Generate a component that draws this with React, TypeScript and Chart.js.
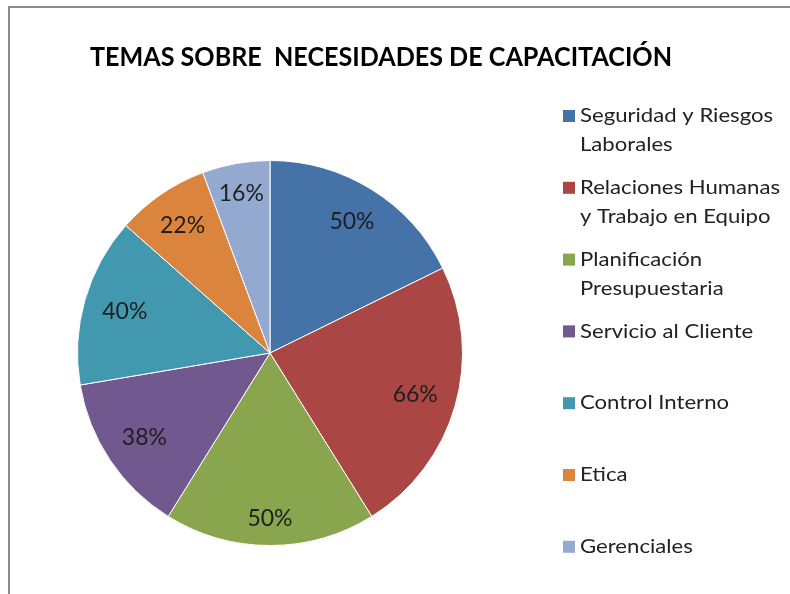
import React, { useEffect, useRef } from "react";
import { Chart, registerables } from "chart.js";

Chart.register(...registerables);

const TITLE = "TEMAS SOBRE  NECESIDADES DE CAPACITACIÓN";
const categories: string[][] = [
  ["Seguridad y Riesgos", "Laborales"],
  ["Relaciones Humanas", "y Trabajo en Equipo"],
  ["Planificación", "Presupuestaria"],
  ["Servicio al Cliente"],
  ["Control Interno"],
  ["Etica"],
  ["Gerenciales"],
];
const values: number[] = [50, 66, 50, 38, 40, 22, 16];
const colors: string[] = ["#4572A7", "#AA4643", "#89A54E", "#71588F", "#4198AF", "#DB843D", "#93A9CF"];

const FONT = "Lato, 'Open Sans', sans-serif";

const decorPlugin = {
  id: "decor",
  beforeDraw(chart: any) {
    const ctx = chart.ctx;
    ctx.save();
    ctx.fillStyle = "#ffffff";
    ctx.fillRect(0, 0, chart.width, chart.height);
    ctx.strokeStyle = "#8a8a8a";
    ctx.lineWidth = 2;
    ctx.beginPath();
    ctx.moveTo(9, chart.height + 2);
    ctx.lineTo(9, 7);
    ctx.lineTo(chart.width + 2, 7);
    ctx.stroke();
    ctx.restore();
  },
  afterDraw(chart: any) {
    const ctx = chart.ctx;
    ctx.save();
    // title
    ctx.fillStyle = "#000000";
    ctx.font = `bold 27px ${FONT}`;
    ctx.textBaseline = "middle";
    ctx.textAlign = "left";
    const tw = ctx.measureText(TITLE).width;
    ctx.translate(90, 57);
    ctx.scale(582 / tw, 1);
    ctx.fillText(TITLE, 0, 0);
    ctx.restore();

    // legend
    ctx.save();
    ctx.font = `19px ${FONT}`;
    ctx.textBaseline = "middle";
    ctx.textAlign = "left";
    const refW = ctx.measureText(categories[1][0]).width;
    const sx = 200 / refW;
    const startY = 116;
    const step = 71.8;
    const lineH = 29;
    categories.forEach((lines, i) => {
      const y = startY + i * step;
      ctx.fillStyle = colors[i];
      ctx.fillRect(563, y - 6, 12, 12);
      ctx.fillStyle = "#222222";
      lines.forEach((t, j) => {
        ctx.save();
        ctx.translate(580, y + j * lineH);
        ctx.scale(sx, 1);
        ctx.fillText(t, 0, 0);
        ctx.restore();
      });
    });
    ctx.restore();

    // data labels
    const meta = chart.getDatasetMeta(0);
    ctx.save();
    ctx.font = `23px ${FONT}`;
    ctx.textBaseline = "middle";
    ctx.textAlign = "center";
    ctx.fillStyle = "#1f1f1f";
    meta.data.forEach((arc: any, i: number) => {
      const p = arc.getProps(["x", "y", "startAngle", "endAngle", "outerRadius"], true);
      const mid = (p.startAngle + p.endAngle) / 2;
      const text = values[i] + "%";
      const hw = ctx.measureText(text).width / 2;
      const hh = 10;
      const c = Math.cos(mid);
      const s = Math.sin(mid);
      const extent = hw * Math.abs(c) + hh * Math.abs(s);
      const r = p.outerRadius - 17 - extent;
      ctx.fillText(text, p.x + c * r, p.y + s * r);
    });
    ctx.restore();
  },
};

export default function App() {
  const ref = useRef<HTMLCanvasElement | null>(null);
  useEffect(() => {
    if (!ref.current) return;
    const chart = new Chart(ref.current, {
      type: "pie",
      data: {
        labels: categories.map((c) => c.join(" ")),
        datasets: [
          {
            data: values,
            backgroundColor: colors,
            borderColor: "#ffffff",
            borderWidth: 1,
          },
        ],
      },
      options: {
        responsive: false,
        animation: false,
        layout: { padding: { left: 77, right: 327, top: 160, bottom: 48 } },
        plugins: {
          legend: { display: false },
          title: { display: false },
          tooltip: { enabled: false },
        },
      },
      plugins: [decorPlugin],
    });
    return () => chart.destroy();
  }, []);
  return (
    <div style={{ position: "absolute", left: 0, top: 0, width: 790, height: 594 }}>
      <canvas ref={ref} width={790} height={594} style={{ display: "block" }} />
    </div>
  );
}
